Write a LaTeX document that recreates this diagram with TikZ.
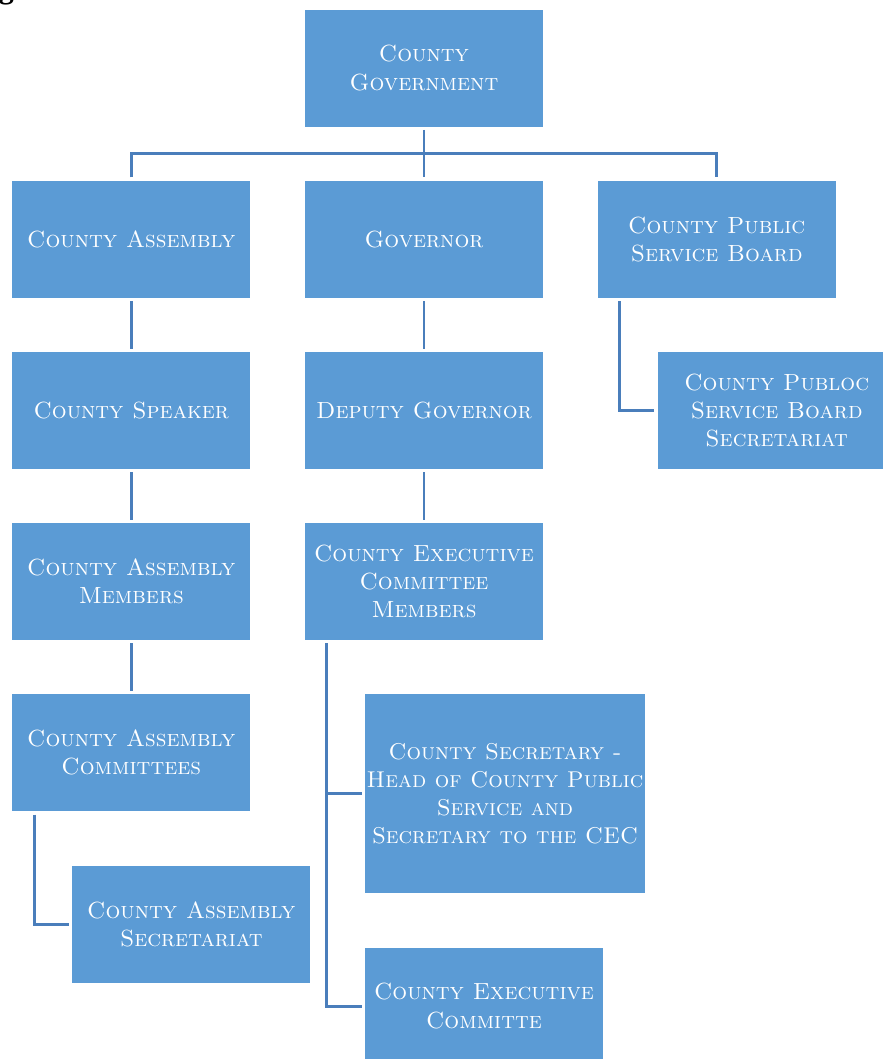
\documentclass[tikz,border=0pt]{standalone}
\usepackage{fontspec}
\newfontfamily\headfont{Liberation Serif}
\usetikzlibrary{calc, positioning}
\definecolor{boxblue}{HTML}{5B9BD5}
\definecolor{lineblue}{HTML}{4A7EBB}

\begin{document}
\begin{tikzpicture}
			[node distance=1.07cm and 1.08cm,
			 unit/.style={rectangle, fill=boxblue, text=white, align=center, inner sep=1pt,
			   minimum width=4.76cm, minimum height=2.34cm,
			   font=\fontsize{13.3}{16}\selectfont\scshape},
			 link/.style={draw=lineblue, line width=1.7pt, shorten <=0.06cm, shorten >=0.06cm}]
			\useasboundingbox (0,0) rectangle (17.66,-21.18);
			% title (cut off at top) %
			\node[anchor=base west, inner sep=0pt, font=\headfont\bfseries\fontsize{17}{20}\selectfont] (title) at (-0.76,0.03) {Organizational Chart};

			% nodes %
			\node[unit] (gov) at (8.48,-1.36) {County\\Government};
			\node[unit, below left=of gov] (ca) {County Assembly};
			\node[unit, below=of gov] (gv) {Governor};
			\node[unit, right=of gv] (psb) {County Public\\Service Board};
			\node[unit, below=of ca] (sp) {County Speaker};
			\node[unit, below=of gv] (dg) {Deputy Governor};
			\node[unit, below=of psb, xshift=1.2cm] (psbs) {County Publoc\\Service Board\\Secretariat};
			\node[unit, below=of sp] (cam) {County Assembly\\Members};
			\node[unit, below=of dg] (cec) {County Executive\\Committee\\Members};
			\node[unit, below=of cam] (cac) {County Assembly\\Committees};
			\node[unit, below=of cec, xshift=1.62cm, minimum width=5.6cm, minimum height=3.98cm, inner xsep=0pt,
			  font=\fontsize{13}{16}\selectfont\scshape] (csec) {County Secretary -\\Head of County Public\\Service and\\Secretary to the CEC};
			\node[unit, below=of cac, xshift=1.2cm] (cas) {County Assembly\\Secretariat};
			\node[unit, below=of csec, xshift=-0.42cm] (cecm) {County Executive\\Committe};

			% edges %
			\draw[link] (gov) -- (gv);
			\draw[link] (ca.north) |- ($(gov.south)!0.5!(gv.north)$) -| (psb.north);
			\draw[link] (ca) -- (sp);
			\draw[link] (sp) -- (cam);
			\draw[link] (cam) -- (cac);
			\draw[link] (gv) -- (dg);
			\draw[link] (dg) -- (cec);
			\draw[link] ([xshift=0.44cm]psb.south west) |- (psbs.west);
			\draw[link] ([xshift=0.46cm]cac.south west) |- (cas.west);
			\draw[link] ([xshift=0.44cm]cec.south west) |- (csec.west);
			\draw[link] ([xshift=0.44cm]cec.south west) |- (cecm.west);
			\end{tikzpicture}
\end{document}
